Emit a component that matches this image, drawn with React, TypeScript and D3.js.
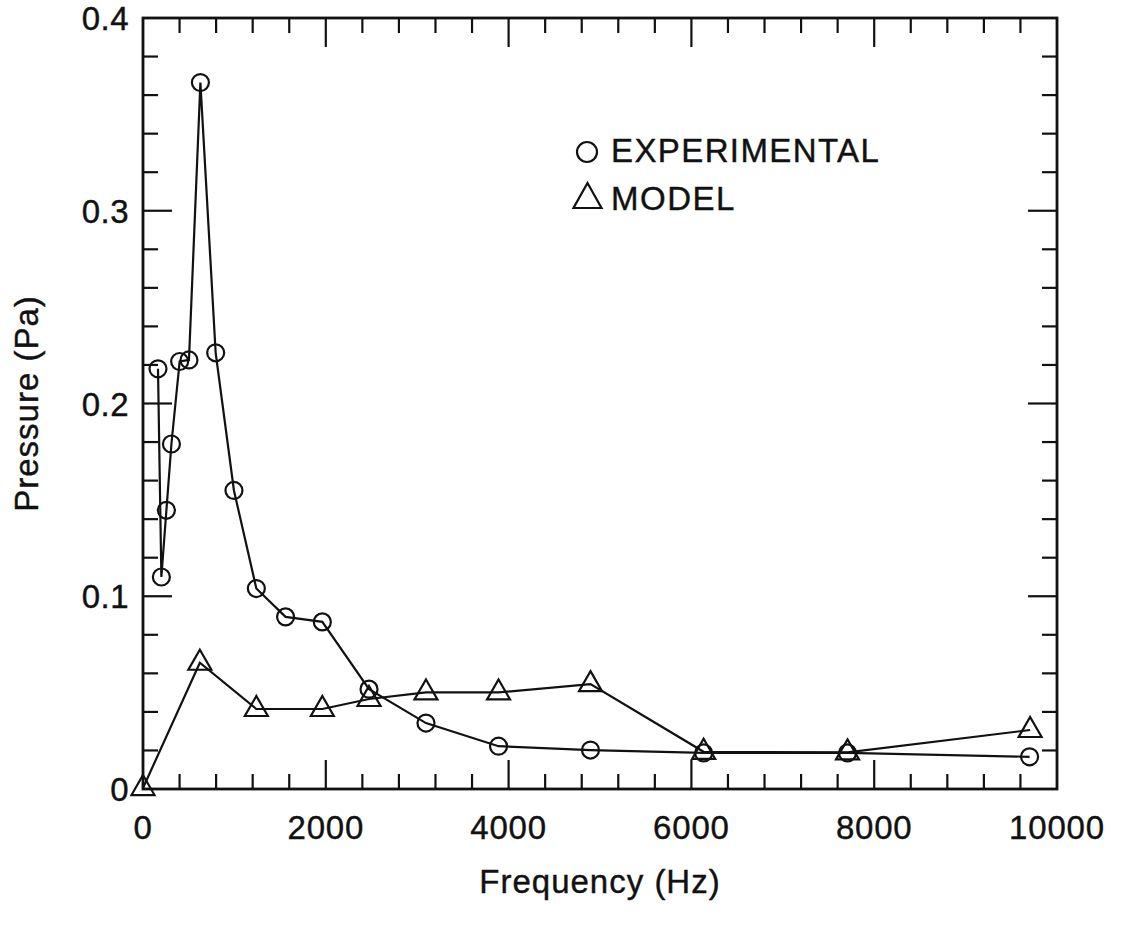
import React from "react";
import * as d3 from "d3";

const expFreq = [164, 201, 256, 311, 401, 503, 628, 795, 995, 1240, 1560, 1962, 2473, 3096, 3890, 4896, 6134, 7708, 9700];
const expPressure = [0.218, 0.110, 0.1446, 0.179, 0.2218, 0.2226, 0.3665, 0.2263, 0.1549, 0.104, 0.0893, 0.0867, 0.0518, 0.0342, 0.0222, 0.0202, 0.0187, 0.0187, 0.0167];

const modelFreq = [0, 622, 1240, 1962, 2473, 3096, 3890, 4896, 6134, 7708, 9706];
const modelPressure = [0.0005, 0.0655, 0.0415, 0.0415, 0.0467, 0.0501, 0.0501, 0.0544, 0.0193, 0.019, 0.0306];

const xMajorTicks = [0, 2000, 4000, 6000, 8000, 10000];
const xTickLabels = ["0", "2000", "4000", "6000", "8000", "10000"];
const yMajorTicks = [0, 0.1, 0.2, 0.3, 0.4];
const yTickLabels = ["0", "0.1", "0.2", "0.3", "0.4"];

const legendLabels = ["EXPERIMENTAL", "MODEL"];
const xTitle = "Frequency (Hz)";
const yTitle = "Pressure (Pa)";

const W = 1122;
const H = 930;
const L = 143;
const R = 1057;
const T = 18;
const B = 789;
const FONT = "'Liberation Sans', Arial, Helvetica, sans-serif";

export default function App() {
  const x = d3.scaleLinear().domain([0, 10000]).range([L, R]);
  const y = d3.scaleLinear().domain([0, 0.4]).range([B, T]);

  const xMinor = d3.range(400, 10000, 400).filter((v) => v % 2000 !== 0);
  const xMajorInner = xMajorTicks.filter((v) => v > 0 && v < 10000);
  const yMinor = d3.range(1, 20).map((i) => i * 0.02).filter((_, i) => (i + 1) % 5 !== 0);
  const yMajorInner = yMajorTicks.filter((v) => v > 0 && v < 0.4);

  const majorLen = 29;
  const minorLen = 15;

  const expData = expFreq.map((f, i) => [f, expPressure[i]] as [number, number]);
  const modelData = modelFreq.map((f, i) => [f, modelPressure[i]] as [number, number]);

  const line = d3
    .line<[number, number]>()
    .x((d) => x(d[0]))
    .y((d) => y(d[1]));

  const tri = (cx: number, cy: number, s: number) =>
    `M${cx},${cy - 13 * s}L${cx + 11.5 * s},${cy + 7 * s}L${cx - 11.5 * s},${cy + 7 * s}Z`;

  const stroke = "#111";

  return (
    <svg
      width={W}
      height={H}
      style={{ position: "absolute", left: 0, top: 0, background: "#fff" }}
      fontFamily={FONT}
    >
      <rect x={0} y={0} width={W} height={H} fill="#fff" />

      {/* ticks */}
      <g stroke={stroke} strokeWidth={2.2}>
        {xMinor.map((v) => (
          <g key={"xm" + v}>
            <line x1={x(v)} x2={x(v)} y1={B} y2={B - minorLen} />
            <line x1={x(v)} x2={x(v)} y1={T} y2={T + minorLen} />
          </g>
        ))}
        {xMajorInner.map((v) => (
          <g key={"xM" + v}>
            <line x1={x(v)} x2={x(v)} y1={B} y2={B - majorLen} />
            <line x1={x(v)} x2={x(v)} y1={T} y2={T + majorLen} />
          </g>
        ))}
        {yMinor.map((v) => (
          <g key={"ym" + v}>
            <line x1={L} x2={L + minorLen} y1={y(v)} y2={y(v)} />
            <line x1={R} x2={R - minorLen} y1={y(v)} y2={y(v)} />
          </g>
        ))}
        {yMajorInner.map((v) => (
          <g key={"yM" + v}>
            <line x1={L} x2={L + majorLen} y1={y(v)} y2={y(v)} />
            <line x1={R} x2={R - majorLen} y1={y(v)} y2={y(v)} />
          </g>
        ))}
      </g>

      {/* frame */}
      <rect x={L} y={T} width={R - L} height={B - T} fill="none" stroke={stroke} strokeWidth={2.8} />

      {/* tick labels */}
      <g fontSize={33} fill={stroke} stroke={stroke} strokeWidth={0.4}>
        {xMajorTicks.map((v, i) => (
          <text key={"xl" + v} x={x(v)} y={839} textAnchor="middle" letterSpacing={0.8}>
            {xTickLabels[i]}
          </text>
        ))}
        {yMajorTicks.map((v, i) => (
          <text key={"yl" + v} x={129} y={y(v) + 12} textAnchor="end" letterSpacing={0.5}>
            {yTickLabels[i]}
          </text>
        ))}
      </g>

      {/* axis titles */}
      <g fontSize={33} fill={stroke} stroke={stroke} strokeWidth={0.4}>
        <text x={(L + R) / 2} y={893} textAnchor="middle" letterSpacing={1}>
          {xTitle}
        </text>
        <text transform={`translate(38,${(T + B) / 2}) rotate(-90)`} textAnchor="middle" letterSpacing={1}>
          {yTitle}
        </text>
      </g>

      {/* series lines */}
      <path d={line(expData) || ""} fill="none" stroke={stroke} strokeWidth={2.2} />
      <path d={line(modelData) || ""} fill="none" stroke={stroke} strokeWidth={2.2} />

      {/* markers */}
      <g fill="none" stroke={stroke} strokeWidth={2.2}>
        {expData.map((d, i) => (
          <circle key={"c" + i} cx={x(d[0])} cy={y(d[1])} r={8.5} />
        ))}
        {modelData.map((d, i) => (
          <path key={"t" + i} d={tri(x(d[0]), y(d[1]), 1)} strokeLinejoin="miter" />
        ))}
      </g>

      {/* legend */}
      <g fill="none" stroke={stroke} strokeWidth={2.2}>
        <circle cx={587} cy={152} r={10} />
        <path d={`M587.5,183L601.5,208L573.5,208Z`} />
      </g>
      <g fontSize={33} fill={stroke} stroke={stroke} strokeWidth={0.4}>
        <text x={611} y={162} letterSpacing={1.4}>
          {legendLabels[0]}
        </text>
        <text x={611} y={210} letterSpacing={1.5}>
          {legendLabels[1]}
        </text>
      </g>
    </svg>
  );
}
